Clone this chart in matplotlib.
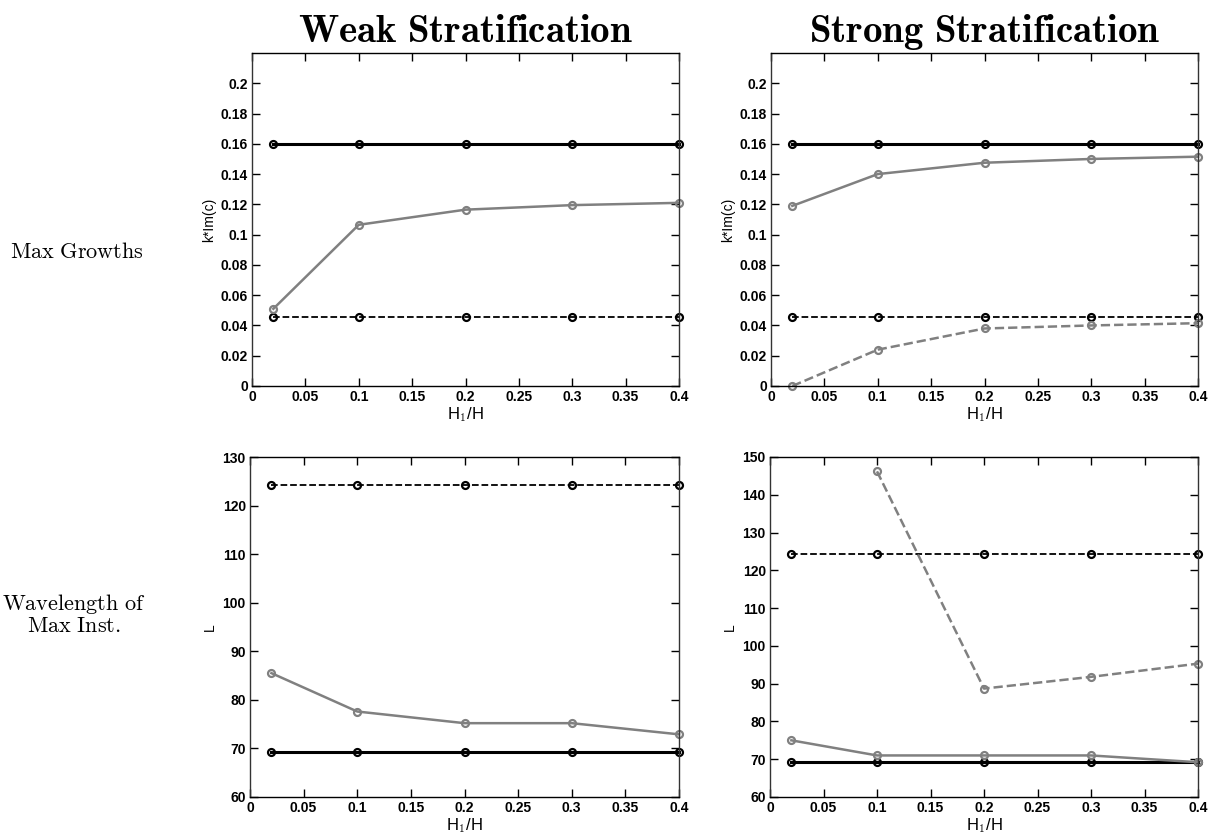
import matplotlib
matplotlib.use('Agg')
import matplotlib.pyplot as plt

plt.rcParams['font.family'] = 'Liberation Sans'
plt.rcParams['font.weight'] = 'bold'
plt.rcParams['mathtext.fontset'] = 'cm'

# shared x positions (layer depth ratio)
h_ratio = [0.02, 0.1, 0.2, 0.3, 0.4]

# max growth rates k*Im(c)
growth_ref_upper = [0.16, 0.16, 0.16, 0.16, 0.16]
growth_ref_lower = [0.0455, 0.0455, 0.0455, 0.0455, 0.0455]
growth_weak = [0.051, 0.1065, 0.1165, 0.1195, 0.121]
growth_strong_1 = [0.119, 0.140, 0.1475, 0.150, 0.1515]
growth_strong_2 = [0.0, 0.024, 0.038, 0.040, 0.0415]

# wavelength of max instability
wave_ref_upper = [124.2, 124.2, 124.2, 124.2, 124.2]
wave_ref_lower = [69.2, 69.2, 69.2, 69.2, 69.2]
wave_weak = [85.5, 77.6, 75.2, 75.2, 72.9]
wave_strong_1 = [75.0, 71.0, 71.0, 71.0, 69.2]
h_ratio_strong_2 = [0.1, 0.2, 0.3, 0.4]
wave_strong_2 = [146.2, 88.7, 91.8, 95.3]

col_titles = ['Weak Stratification', 'Strong Stratification']

GRAY = '#808080'

fig = plt.figure(figsize=(12.19, 8.33), dpi=100)
W, H = 1219, 833
boxes = [
    (252, 53, 427, 333), (771, 53, 427, 333),
    (250, 457, 429, 340), (770, 457, 428, 340),
]
axes = [fig.add_axes([x / W, 1 - (y + h) / H, w / W, h / H]) for x, y, w, h in boxes]


def black(ax, x, y, ls):
    ax.plot(x, y, color='black', ls=ls, lw=2.2 if ls == '-' else 1.3,
            marker='o', mfc='none', mec='black', ms=5, mew=1.6, clip_on=False)


def gray(ax, x, y, ls):
    ax.plot(x, y, color=GRAY, ls=ls, lw=1.8,
            marker='o', mfc='none', mec=GRAY, ms=5, mew=1.6, clip_on=False)


ax = axes[0]
black(ax, h_ratio, growth_ref_upper, '-')
black(ax, h_ratio, growth_ref_lower, '--')
gray(ax, h_ratio, growth_weak, '-')

ax = axes[1]
black(ax, h_ratio, growth_ref_upper, '-')
black(ax, h_ratio, growth_ref_lower, '--')
gray(ax, h_ratio, growth_strong_1, '-')
gray(ax, h_ratio, growth_strong_2, '--')

ax = axes[2]
black(ax, h_ratio, wave_ref_upper, '--')
black(ax, h_ratio, wave_ref_lower, '-')
gray(ax, h_ratio, wave_weak, '-')

ax = axes[3]
black(ax, h_ratio, wave_ref_upper, '--')
black(ax, h_ratio, wave_ref_lower, '-')
gray(ax, h_ratio, wave_strong_1, '-')
gray(ax, h_ratio_strong_2, wave_strong_2, '--')

for i, ax in enumerate(axes):
    ax.set_xlim(0, 0.4)
    ax.set_xticks([0, 0.05, 0.1, 0.15, 0.2, 0.25, 0.3, 0.35, 0.4])
    ax.set_xticklabels(['0', '0.05', '0.1', '0.15', '0.2', '0.25', '0.3', '0.35', '0.4'])
    ax.set_xlabel('H$_\\mathbf{1}$/H', fontsize=12, labelpad=1)
    if i < 2:
        ax.set_ylim(0, 0.22)
        yt = [0, 0.02, 0.04, 0.06, 0.08, 0.1, 0.12, 0.14, 0.16, 0.18, 0.2]
        ax.set_yticks(yt)
        ax.set_yticklabels(['0'] + ['%g' % v for v in yt[1:]])
        ax.set_ylabel('k*Im(c)', fontsize=10, labelpad=3)
    else:
        top = 130 if i == 2 else 150
        ax.set_ylim(60, top)
        ax.set_yticks(range(60, top + 1, 10))
        ax.set_ylabel('L', fontsize=10, labelpad=4)
    ax.tick_params(direction='in', top=True, right=True, labelsize=10,
                   length=6, width=1, pad=3)
    for s in ax.spines.values():
        s.set_linewidth(1)
        s.set_color('#333333')
    ax.spines['top'].set_color('black')
    ax.spines['bottom'].set_color('black')

for ax, t in zip(axes[:2], col_titles):
    ax.set_title(r'$\mathbf{%s}$' % t.replace(' ', r'\ '), fontsize=28, pad=8)

fig.text(77 / W, 1 - 252 / H, r'$\mathrm{Max\ Growths}$', fontsize=16,
         ha='center', va='center')
fig.text(74 / W, 1 - 615 / H, r'$\mathrm{Wavelength\ of}$' + '\n' + r'$\mathrm{Max\ Inst.}$',
         fontsize=16, ha='center', va='center', linespacing=1.0)

fig.savefig('out.png', dpi=100)
